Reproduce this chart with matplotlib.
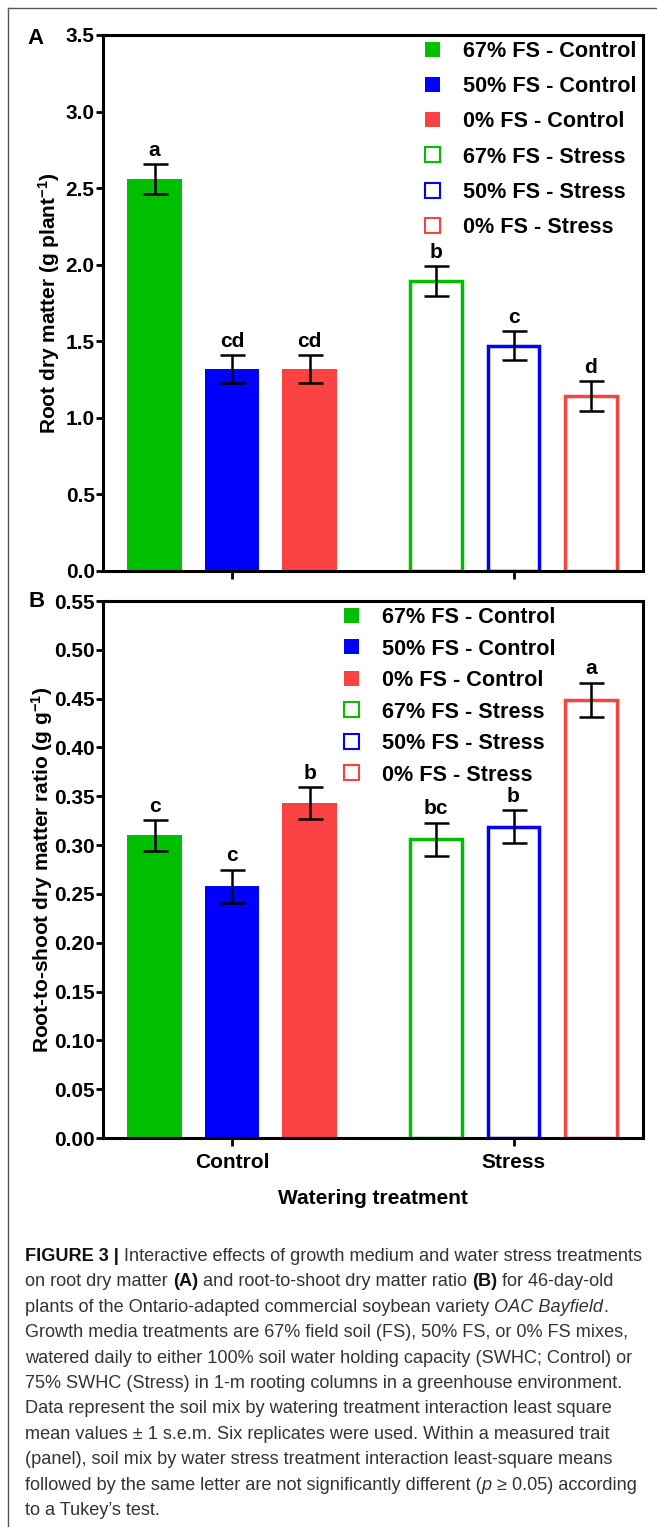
import numpy as np
import matplotlib
matplotlib.use("Agg")
import matplotlib.pyplot as plt
from matplotlib.patches import Patch
from matplotlib.ticker import FormatStrFormatter
from matplotlib import font_manager

# data
groups = ["Control", "Stress"]
soils = ["67% FS", "50% FS", "0% FS"]
colors = ["#00BF00", "#0000FF", "#FA4242"]

root_dm = [[2.56, 1.32, 1.32], [1.895, 1.472, 1.143]]
root_dm_sem = [[0.096, 0.09, 0.09], [0.097, 0.095, 0.097]]
root_dm_letters = [["a", "cd", "cd"], ["b", "c", "d"]]

ratio = [[0.310, 0.258, 0.343], [0.306, 0.319, 0.449]]
ratio_sem = [[0.016, 0.017, 0.016], [0.017, 0.017, 0.0175]]
ratio_letters = [["c", "c", "b"], ["bc", "b", "a"]]

caption_lines = [
    [("FIGURE 3 |", "b"), (" Interactive effects of growth medium and water stress treatments", "")],
    [("on root dry matter ", ""), ("(A)", "b"), (" and root-to-shoot dry matter ratio ", ""), ("(B)", "b"), (" for 46-day-old", "")],
    [("plants of the Ontario-adapted commercial soybean variety ", ""), ("OAC Bayfield", "i"), (".", "")],
    [("Growth media treatments are 67% field soil (FS), 50% FS, or 0% FS mixes,", "")],
    [("watered daily to either 100% soil water holding capacity (SWHC; Control) or", "")],
    [("75% SWHC (Stress) in 1-m rooting columns in a greenhouse environment.", "")],
    [("Data represent the soil mix by watering treatment interaction least square", "")],
    [("mean values \u00b1 1 s.e.m. Six replicates were used. Within a measured trait", "")],
    [("(panel), soil mix by water stress treatment interaction least-square means", "")],
    [("followed by the same letter are not significantly different (", ""), ("p", "i"), (" \u2265 0.05) according", "")],
    [("to a Tukey\u2019s test.", "")],
]

plt.rcParams["font.family"] = ["Liberation Sans", "DejaVu Sans"]
plt.rcParams["font.weight"] = "bold"
plt.rcParams["mathtext.fontset"] = "custom"
plt.rcParams["mathtext.rm"] = "Liberation Sans:bold"
plt.rcParams["mathtext.bf"] = "Liberation Sans:bold"
plt.rcParams["mathtext.default"] = "rm"

try:
    font_manager.findfont("Liberation Sans Narrow", fallback_to_default=False)
    cap_font = "Liberation Sans Narrow"
    cap_size = 15.4
except ValueError:
    cap_font = "Liberation Sans"
    cap_size = 13.1

W, H = 657, 1527
fig = plt.figure(figsize=(W / 100, H / 100), dpi=100)


def fx(x):
    return x / W


def fy(y):
    return 1 - y / H


group_centers = [1.0, 4.632]
offsets = [-1, 0, 1]
FS = 15
LEG_FS = 15.6


def draw_panel(ax, values, sems, letters, ylim, yticks, fmt, ylabel, label_x, leg_top, leg_left, leg_space):
    for g, gc in enumerate(group_centers):
        for i, off in enumerate(offsets):
            x = gc + off
            if g == 0:
                ax.bar(x, values[g][i], width=0.70, color=colors[i], linewidth=0, zorder=2)
            else:
                ax.bar(x, values[g][i], width=0.66, facecolor="white", edgecolor=colors[i],
                       linewidth=2.5, zorder=2)
            ax.errorbar(x, values[g][i], yerr=sems[g][i], fmt="none", ecolor="black",
                        elinewidth=1.8, capsize=9, capthick=1.8, zorder=3)
            ax.annotate(letters[g][i], (x, values[g][i] + sems[g][i]), xytext=(0, 3),
                        textcoords="offset points", ha="center", va="bottom",
                        fontsize=FS, fontweight="bold")
    ax.set_xlim(-0.665, 6.303)
    ax.set_ylim(*ylim)
    ax.set_yticks(yticks)
    ax.yaxis.set_major_formatter(FormatStrFormatter(fmt))
    ax.set_xticks(group_centers)
    for s in ax.spines.values():
        s.set_linewidth(2.2)
    ax.tick_params(axis="both", direction="out", length=5, width=2, labelsize=FS, pad=1)
    ax.set_ylabel(ylabel, fontsize=FS, fontweight="bold")
    ax.yaxis.set_label_coords(label_x, 0.5)

    handles = []
    labels = []
    for g, grp in enumerate(groups):
        for i, soil in enumerate(soils):
            if g == 0:
                handles.append(Patch(facecolor=colors[i], edgecolor=colors[i], linewidth=0))
            else:
                handles.append(Patch(facecolor="white", edgecolor=colors[i], linewidth=1.5))
            labels.append(f"{soil} - {grp}")
    ax.legend(handles, labels, loc="upper left", frameon=False,
              bbox_to_anchor=(fx(leg_left), fy(leg_top)), bbox_transform=fig.transFigure,
              borderpad=0, borderaxespad=0, handlelength=0.69, handleheight=0.69,
              handletextpad=1.05, labelspacing=leg_space,
              prop={"size": LEG_FS, "weight": "bold"})
    return ax


axA = fig.add_axes([fx(103), fy(571), fx(540), (571 - 35) / H])
draw_panel(axA, root_dm, root_dm_sem, root_dm_letters, (0, 3.5), np.arange(0, 3.51, 0.5), "%.1f",
           "Root dry matter (g plant$^{-1}$)", -0.076, 41, 425, 0.655)
axA.set_xticklabels([])
axA.tick_params(axis="x", length=6)

axB = fig.add_axes([fx(103), fy(1138), fx(540), (1138 - 601) / H])
draw_panel(axB, ratio, ratio_sem, ratio_letters, (0, 0.55), np.arange(0, 0.551, 0.05), "%.2f",
           "Root-to-shoot dry matter ratio (g g$^{-1}$)", -0.088, 607, 344, 0.485)
axB.set_xticklabels(groups)
axB.tick_params(axis="x", length=6, pad=5)
axB.set_xlabel("Watering treatment", fontsize=FS, fontweight="bold", labelpad=12)

fig.text(fx(27), fy(38), "A", fontsize=16, fontweight="bold", va="center", ha="left")
fig.text(fx(28), fy(601), "B", fontsize=16, fontweight="bold", va="center", ha="left")

# caption and outer frame
cax = fig.add_axes([0, 0, 1, 1], zorder=-1)
cax.set_xlim(0, 1)
cax.set_ylim(0, 1)
cax.axis("off")
cax.plot([fx(8), 1], [fy(8), fy(8)], color="#555555", lw=1.0)
cax.plot([fx(8), fx(8)], [fy(8), 0], color="#555555", lw=1.0)

cap_color = "#333333"
for n, line in enumerate(caption_lines):
    y = fy(1261 + n * 25.4)
    prev = None
    for txt, style in line:
        kw = dict(fontsize=cap_size, family=[cap_font, "DejaVu Sans"],
                  fontweight="bold" if style == "b" else "normal",
                  fontstyle="italic" if style == "i" else "normal",
                  color="#111111" if style == "b" else cap_color)
        if prev is None:
            prev = cax.annotate(txt, (fx(25), y), xycoords="axes fraction",
                                ha="left", va="baseline", **kw)
        else:
            prev = cax.annotate(txt, (1, 0), xycoords=prev, ha="left", va="bottom", **kw)

fig.savefig("out.png", dpi=100)
